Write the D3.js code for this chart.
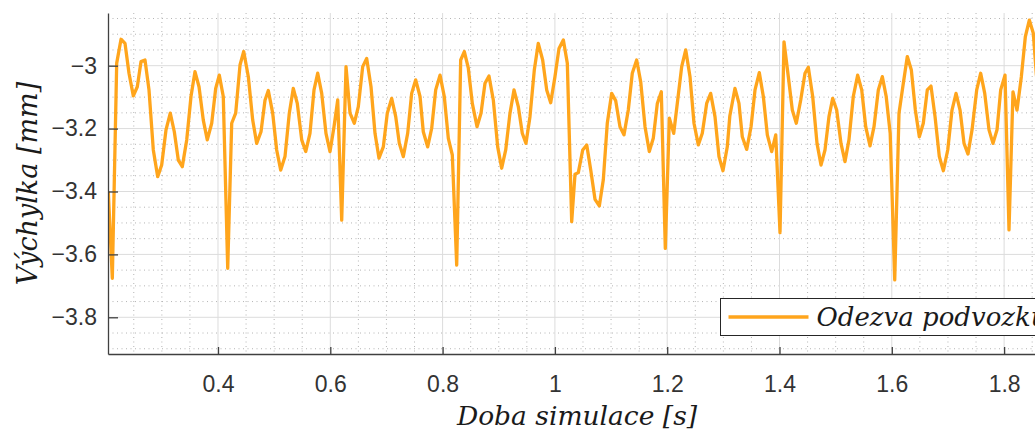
<!DOCTYPE html>
<html>
<head>
<meta charset="utf-8">
<script src="https://cdn.jsdelivr.net/npm/d3@7"></script>
<style>
  body { margin: 0; background: #fff; overflow: hidden; }
  .tick text { font-family: "Liberation Sans", Arial, sans-serif; font-size: 23px; fill: #333; }
  .axis-label, .legend-text { font-family: "DejaVu Serif", serif; font-style: italic; fill: #1a1a1a; }
</style>
</head>
<body>
<div class="chart"></div>
<script>
// data
const time = [
  0.2046, 0.2118, 0.2196, 0.2273, 0.2344, 0.2415, 0.2492, 0.2563, 0.2629, 0.2700,
  0.2771, 0.2848, 0.2926, 0.2997, 0.3074, 0.3150, 0.3222, 0.3293, 0.3364, 0.3443,
  0.3519, 0.3590, 0.3662, 0.3738, 0.3809, 0.3888, 0.3959, 0.4023, 0.4094, 0.4173,
  0.4244, 0.4315, 0.4392, 0.4458, 0.4540, 0.4618, 0.4689, 0.4766, 0.4837, 0.4896,
  0.4974, 0.5045, 0.5117, 0.5193, 0.5270, 0.5341, 0.5412, 0.5491, 0.5562, 0.5638,
  0.5710, 0.5776, 0.5847, 0.5923, 0.5995, 0.6066, 0.6132, 0.6203, 0.6280, 0.6351,
  0.6428, 0.6499, 0.6577, 0.6648, 0.6725, 0.6796, 0.6867, 0.6944, 0.7015, 0.7093,
  0.7165, 0.7229, 0.7300, 0.7378, 0.7449, 0.7521, 0.7598, 0.7656, 0.7734, 0.7806,
  0.7877, 0.7954, 0.8030, 0.8102, 0.8173, 0.8251, 0.8322, 0.8387, 0.8458, 0.8529,
  0.8613, 0.8684, 0.8755, 0.8826, 0.8903, 0.8981, 0.9052, 0.9124, 0.9200, 0.9272,
  0.9348, 0.9419, 0.9485, 0.9556, 0.9633, 0.9704, 0.9782, 0.9854, 0.9925, 1.0001,
  1.0073, 1.0150, 1.0221, 1.0299, 1.0358, 1.0417, 1.0495, 1.0567, 1.0638, 1.0714,
  1.0791, 1.0862, 1.0933, 1.1011, 1.1082, 1.1159, 1.1230, 1.1307, 1.1378, 1.1456,
  1.1528, 1.1605, 1.1681, 1.1752, 1.1824, 1.1895, 1.1966, 1.2038, 1.2116, 1.2187,
  1.2258, 1.2330, 1.2406, 1.2477, 1.2554, 1.2625, 1.2703, 1.2774, 1.2851, 1.2922,
  1.2993, 1.3070, 1.3115, 1.3207, 1.3278, 1.3337, 1.3416, 1.3493, 1.3564, 1.3640,
  1.3712, 1.3783, 1.3861, 1.3933, 1.4009, 1.4080, 1.4157, 1.4228, 1.4299, 1.4378,
  1.4454, 1.4513, 1.4591, 1.4668, 1.4739, 1.4810, 1.4881, 1.4947, 1.5018, 1.5095,
  1.5166, 1.5237, 1.5314, 1.5392, 1.5464, 1.5535, 1.5612, 1.5683, 1.5760, 1.5831,
  1.5900, 1.5971, 1.6052, 1.6128, 1.6205, 1.6276, 1.6348, 1.6419, 1.6490, 1.6561,
  1.6632, 1.6698, 1.6770, 1.6846, 1.6918, 1.6996, 1.7072, 1.7144, 1.7215, 1.7286,
  1.7357, 1.7429, 1.7512, 1.7583, 1.7655, 1.7731, 1.7802, 1.7874, 1.7939, 1.8016,
  1.8087, 1.8158, 1.8230, 1.8307, 1.8378, 1.8449, 1.8520, 1.8575, 1.8650
];
const displacement = [
  -3.400, -3.676, -2.992, -2.916, -2.929, -3.024, -3.096, -3.067, -2.987, -2.982,
  -3.077, -3.268, -3.353, -3.316, -3.204, -3.151, -3.210, -3.300, -3.321, -3.236,
  -3.098, -3.019, -3.067, -3.173, -3.236, -3.183, -3.072, -3.030, -3.098, -3.644,
  -3.183, -3.151, -2.998, -2.955, -3.035, -3.173, -3.247, -3.210, -3.110, -3.079,
  -3.151, -3.268, -3.332, -3.289, -3.151, -3.072, -3.120, -3.236, -3.273, -3.215,
  -3.077, -3.024, -3.088, -3.215, -3.273, -3.194, -3.109, -3.491, -3.003, -3.151,
  -3.183, -3.130, -3.003, -2.977, -3.067, -3.215, -3.294, -3.258, -3.151, -3.104,
  -3.162, -3.247, -3.289, -3.215, -3.088, -3.045, -3.098, -3.210, -3.258, -3.199,
  -3.077, -3.030, -3.098, -3.231, -3.284, -3.634, -2.982, -2.955, -3.008, -3.120,
  -3.194, -3.151, -3.056, -3.033, -3.109, -3.258, -3.326, -3.268, -3.151, -3.077,
  -3.130, -3.215, -3.247, -3.162, -3.014, -2.929, -2.982, -3.077, -3.118, -3.035,
  -2.945, -2.918, -2.992, -3.496, -3.345, -3.340, -3.268, -3.252, -3.332, -3.425,
  -3.446, -3.363, -3.183, -3.088, -3.111, -3.194, -3.220, -3.141, -3.024, -2.982,
  -3.051, -3.194, -3.273, -3.231, -3.120, -3.083, -3.581, -3.167, -3.215, -3.109,
  -3.003, -2.950, -3.035, -3.183, -3.252, -3.215, -3.120, -3.088, -3.162, -3.289,
  -3.334, -3.258, -3.160, -3.072, -3.120, -3.226, -3.266, -3.194, -3.077, -3.022,
  -3.098, -3.220, -3.273, -3.220, -3.531, -2.924, -3.035, -3.141, -3.183, -3.109,
  -3.024, -3.005, -3.098, -3.247, -3.316, -3.268, -3.162, -3.104, -3.141, -3.247,
  -3.305, -3.236, -3.098, -3.030, -3.077, -3.194, -3.255, -3.194, -3.077, -3.035,
  -3.098, -3.215, -3.681, -3.151, -3.056, -2.971, -3.014, -3.141, -3.226, -3.183,
  -3.077, -3.065, -3.162, -3.289, -3.334, -3.268, -3.141, -3.088, -3.141, -3.247,
  -3.281, -3.204, -3.077, -3.024, -3.088, -3.204, -3.247, -3.204, -3.077, -3.030,
  -3.522, -3.083, -3.141, -3.035, -2.908, -2.855, -2.897, -3.030, -3.120
];
const xTicks = [0.4, 0.6, 0.8, 1.0, 1.2, 1.4, 1.6, 1.8];
const yTicks = [-3.8, -3.6, -3.4, -3.2, -3.0];
const xMinor = [0.25, 0.3, 0.35, 0.45, 0.5, 0.55, 0.65, 0.7, 0.75, 0.85, 0.9, 0.95,
  1.05, 1.1, 1.15, 1.25, 1.3, 1.35, 1.45, 1.5, 1.55, 1.65, 1.7, 1.75, 1.85];
const yMinor = [-3.9, -3.85, -3.75, -3.7, -3.65, -3.55, -3.5, -3.45, -3.35, -3.3, -3.25,
  -3.15, -3.1, -3.05, -2.95, -2.9, -2.85];
const xDomain = [0.2041, 1.8746];
const yDomain = [-3.9167, -2.8325];
const seriesName = 'Odezva podvozku';

// svg + plot area (the right side of the axes runs off the picture)
const svg_width = 1035;
const svg_height = 432;
const plot = { left: 108, right: 1046, top: 13, bottom: 354 };

const svg = d3.select('.chart').append('svg')
  .attr('width', svg_width).attr('height', svg_height);

const xScale = d3.scaleLinear(xDomain, [plot.left, plot.right]);
const yScale = d3.scaleLinear(yDomain, [plot.bottom, plot.top]);

// grid: minor dotted, major solid
const grid = svg.append('g').attr('class', 'grid');
grid.selectAll('.xminor').data(xMinor).join('line')
  .attr('class', 'xminor')
  .attr('x1', d => xScale(d)).attr('x2', d => xScale(d))
  .attr('y1', plot.top).attr('y2', plot.bottom)
  .attr('stroke', '#b5b5b5').attr('stroke-dasharray', '1,3.5');
grid.selectAll('.yminor').data(yMinor).join('line')
  .attr('class', 'yminor')
  .attr('x1', plot.left).attr('x2', plot.right)
  .attr('y1', d => yScale(d)).attr('y2', d => yScale(d))
  .attr('stroke', '#b5b5b5').attr('stroke-dasharray', '1,3.5');
grid.selectAll('.xmajor').data(xTicks).join('line')
  .attr('class', 'xmajor')
  .attr('x1', d => xScale(d)).attr('x2', d => xScale(d))
  .attr('y1', plot.top).attr('y2', plot.bottom)
  .attr('stroke', '#dcdcdc');
grid.selectAll('.ymajor').data(yTicks).join('line')
  .attr('class', 'ymajor')
  .attr('x1', plot.left).attr('x2', plot.right)
  .attr('y1', d => yScale(d)).attr('y2', d => yScale(d))
  .attr('stroke', '#dcdcdc');

// line
svg.append('clipPath').attr('id', 'clip').append('rect')
  .attr('x', plot.left).attr('y', plot.top)
  .attr('width', plot.right - plot.left).attr('height', plot.bottom - plot.top);

const points = time.map((t, i) => [t, displacement[i]]);
const line = d3.line().x(d => xScale(d[0])).y(d => yScale(d[1]));
svg.append('path').datum(points)
  .attr('clip-path', 'url(#clip)')
  .attr('d', line)
  .attr('fill', 'none')
  .attr('stroke', '#ffa51c')
  .attr('stroke-width', 3.3)
  .attr('stroke-linejoin', 'round');

// axes, ticks point inward
const xAxis = d3.axisBottom(xScale).tickValues(xTicks).tickFormat(d3.format('~g'))
  .tickSizeInner(-7).tickSizeOuter(0).tickPadding(22);
const yAxis = d3.axisLeft(yScale).tickValues(yTicks).tickFormat(d3.format('~g'))
  .tickSizeInner(-10).tickSizeOuter(0).tickPadding(11);

const xAxisDraw = svg.append('g').attr('class', 'x axis')
  .attr('transform', `translate(0,${plot.bottom})`).call(xAxis);
const yAxisDraw = svg.append('g').attr('class', 'y axis')
  .attr('transform', `translate(${plot.left},0)`).call(yAxis);
svg.selectAll('.axis .domain').attr('stroke', '#404040').attr('stroke-width', 1.3);
svg.selectAll('.axis .tick line').attr('stroke', '#404040').attr('stroke-width', 1.3);

// axis labels
svg.append('text').attr('class', 'axis-label')
  .attr('x', (plot.left + plot.right) / 2).attr('y', 425)
  .attr('text-anchor', 'middle').style('font-size', '26.5px')
  .text('Doba simulace [s]');
svg.append('text').attr('class', 'axis-label')
  .attr('transform', `translate(37,${(plot.top + plot.bottom) / 2}) rotate(-90)`)
  .attr('text-anchor', 'middle').style('font-size', '27px')
  .text('Výchylka [mm]');

// legend (runs off the right edge, as in the original)
const legend = svg.append('g').attr('class', 'legend')
  .attr('transform', 'translate(720.5,298.5)');
legend.append('rect')
  .attr('width', 340).attr('height', 37)
  .attr('fill', '#fff').attr('stroke', '#262626').attr('stroke-width', 1);
legend.append('line')
  .attr('x1', 8).attr('x2', 88).attr('y1', 18.5).attr('y2', 18.5)
  .attr('stroke', '#ffa51c').attr('stroke-width', 3.3);
legend.append('text').attr('class', 'legend-text')
  .attr('x', 96).attr('y', 27.5).style('font-size', '26px')
  .text(seriesName);
</script>
</body>
</html>
